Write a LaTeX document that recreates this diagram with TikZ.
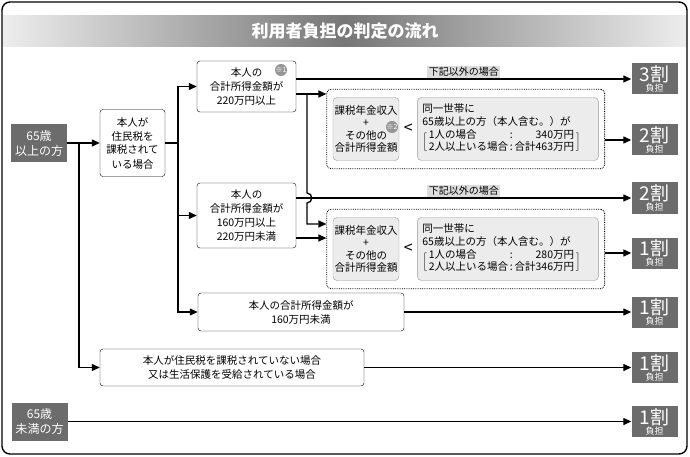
\documentclass[tikz,border=0pt]{standalone}
\usepackage{fontspec}
\setmainfont{Noto Sans CJK JP}
\usetikzlibrary{arrows.meta,positioning,fit,calc}
\definecolor{boxgray}{RGB}{108,108,108}
\definecolor{cmpgray}{RGB}{236,236,236}
\definecolor{edgegray}{RGB}{150,150,150}
\definecolor{bandgray}{RGB}{118,118,118}
\renewcommand{\arraystretch}{0.88}
\newcommand{\wari}[1]{{\fontsize{19}{19}\selectfont #1割}\\{\fontsize{9}{9}\selectfont 負担}}

\begin{document}
\begin{tikzpicture}[x=1pt,y=-1pt,
    cond/.style={draw,rounded corners=3pt,align=center,inner sep=1pt,
                 font=\fontsize{10.5}{14}\selectfont},
    who/.style={fill=boxgray,text=white,align=center,inner sep=0pt,
                minimum width=56pt,minimum height=38pt,
                font=\fontsize{12}{15}\selectfont},
    res/.style={fill=boxgray,text=white,align=center,inner sep=0pt,
                minimum width=46pt,minimum height=31pt,
                font=\fontsize{9}{10}\selectfont},
    cmp/.style={draw=edgegray,fill=cmpgray,rounded corners=4pt,inner sep=0pt,
                minimum height=63pt,font=\fontsize{10.5}{12.5}\selectfont},
    grp/.style={draw,line width=0.8pt,dash pattern=on 0.8pt off 1pt,
                rounded corners=4pt,inner xsep=6pt,inner ysep=8pt},
    note/.style={circle,fill=edgegray,text=white,inner sep=0pt,minimum size=12pt,
                 font=\fontsize{7}{7}\selectfont},
    lbl/.style={fill=cmpgray!85!gray,inner sep=1.5pt,font=\fontsize{10}{12}\selectfont},
    conn/.style={line width=1.3pt},
    flow/.style={conn,-{Triangle[length=8pt,width=7pt]}}]
  \useasboundingbox (0,0) rectangle (690,457);
  \shade[left color=white!93!black,right color=white!93!black,middle color=bandgray]
    (3,16) rectangle (687,47);
  \draw[line width=1.4pt,rounded corners=8pt] (2,2) rectangle (687,454);
  \node[text=white,font=\fontsize{17}{20}\selectfont\bfseries] (ttl) at (345,31.5)
    {利用者負担の判定の流れ};

  \node[who] (old) at (39,143) {65歳\\以上の方};
  \node[who] (young) at (39.5,421.5) {65歳\\未満の方};
  \node[cond,minimum width=65pt,minimum height=67pt] (tax) at (132.5,143)
    {本人が\\住民税を\\課税されて\\いる場合};
  \node[cond,minimum width=99pt,minimum height=51pt] (hi) at (246.5,86.5)
    {本人の\\合計所得金額が\\220万円以上};
  \node[cond,minimum width=99pt,minimum height=65pt] (mid) at (246.5,215.5)
    {本人の\\合計所得金額が\\160万円以上\\220万円未満};
  \node[cond,minimum width=206pt,minimum height=38pt] (lo) at (301,312)
    {本人の合計所得金額が\\160万円未満};
  \node[cond,minimum width=264pt,minimum height=37pt] (notax) at (232,367.5)
    {本人が住民税を課税されていない場合\\又は生活保護を受給されている場合};
  \node[note] (m1) at (281,70) {※1};

  \node[cmp,minimum width=66pt,align=center] (c1) at (366,129)
    {課税年金収入\\+\\その他の\\合計所得金額};
  \node[cmp,right=18pt of c1,text width=171pt,inner xsep=5pt,align=left] (c2)
    {同一世帯に\\65歳以上の方（本人含む。）が\\[2.5pt]
     $\Big[\begin{tabular}{@{\,}l@{\,:\,}r@{\,}}1人の場合&340万円\\2人以上いる場合&合計463万円\end{tabular}\Big]$};
  \node[font=\fontsize{16}{16}\selectfont] (ls1) at ($(c1.east)!0.5!(c2.west)$) {<};
  \node[note] (m2) at (392,127) {※2};
  \node[grp,fit=(c1)(c2)] (d1) {};

  \node[cmp,minimum width=66pt,align=center] (c3) at (366,249)
    {課税年金収入\\+\\その他の\\合計所得金額};
  \node[cmp,right=18pt of c3,text width=171pt,inner xsep=5pt,align=left] (c4)
    {同一世帯に\\65歳以上の方（本人含む。）が\\[2.5pt]
     $\Big[\begin{tabular}{@{\,}l@{\,:\,}r@{\,}}1人の場合&280万円\\2人以上いる場合&合計346万円\end{tabular}\Big]$};
  \node[font=\fontsize{16}{16}\selectfont] (ls2) at ($(c3.east)!0.5!(c4.west)$) {<};
  \node[grp,fit=(c3)(c4)] (d2) {};

  \node[res] (r3) at (654.5,79) {\wari{3}};
  \node[res] (r2a) at (654.5,140) {\wari{2}};
  \node[res] (r2b) at (654.5,198) {\wari{2}};
  \node[res] (r1a) at (654.5,253) {\wari{1}};
  \node[res] (r1b) at (654.5,312) {\wari{1}};
  \node[res] (r1c) at (654.5,367.5) {\wari{1}};
  \node[res] (r1d) at (654.5,421.5) {\wari{1}};

  \coordinate (j1) at (79,143);
  \coordinate (j2) at (178,143);
  \coordinate (k1) at (307,94);
  \draw[flow] (old) -- (tax);
  \draw[flow] (j1) |- (notax);
  \draw[conn] (tax) -- (j2);
  \draw[flow] (j2) |- (hi);
  \draw[flow] (j2) |- (mid);
  \draw[flow] (j2) |- (lo);
  \draw[flow] (hi.east |- r3) -- (r3);
  \draw[flow] (hi.east |- k1) -- (d1.west |- k1);
  \draw[flow] (k1) -- ($(k1 |- r2b)+(0,-5)$) to[out=0,in=0,looseness=1.6]
    ($(k1 |- r2b)+(0,5)$) |- (d2.west |- 0,224);
  \draw[flow] (mid.east |- r2b) -- (r2b);
  \draw[flow] (mid.east |- 0,238) -- (d2.west |- 0,238);
  \draw[flow] (d1.east |- r2a) -- (r2a);
  \draw[flow] (d2.east |- r1a) -- (r1a);
  \draw[flow] (lo) -- (r1b);
  \draw[flow] (notax) -- (r1c);
  \draw[flow] (young) -- (r1d);
  \node[lbl,above=1pt] (lt1) at ($(hi.east |- r3)!0.5!(r3.west)$) {下記以外の場合};
  \node[lbl,above=1pt] (lt2) at ($(mid.east |- r2b)!0.5!(r2b.west)$) {下記以外の場合};
\end{tikzpicture}
\end{document}
